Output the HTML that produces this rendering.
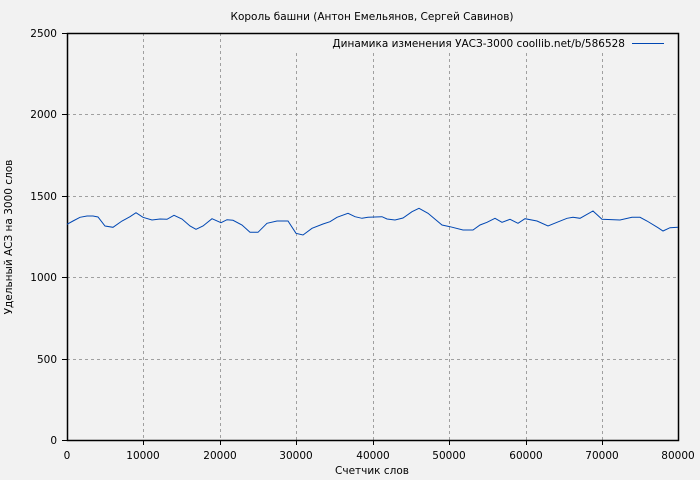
<!DOCTYPE html>
<html><head><meta charset="utf-8"><style>
html,body{margin:0;padding:0;background:#f2f2f2;}
svg{display:block;font-family:"DejaVu Sans","Liberation Sans",sans-serif;}
</style></head><body>
<svg width="700" height="480" viewBox="0 0 700 480">
<rect width="700" height="480" fill="#f2f2f2"/>
<g stroke="#a0a0a0" stroke-width="1" stroke-dasharray="3,3" fill="none">
<line x1="143.5" y1="33" x2="143.5" y2="440"/>
<line x1="220.5" y1="33" x2="220.5" y2="440"/>
<line x1="296.5" y1="53" x2="296.5" y2="440"/>
<line x1="373.5" y1="53" x2="373.5" y2="440"/>
<line x1="449.5" y1="53" x2="449.5" y2="440"/>
<line x1="526.5" y1="53" x2="526.5" y2="440"/>
<line x1="602.5" y1="53" x2="602.5" y2="440"/>
<line x1="67" y1="114.5" x2="678" y2="114.5"/>
<line x1="67" y1="196.5" x2="678" y2="196.5"/>
<line x1="67" y1="277.5" x2="678" y2="277.5"/>
<line x1="67" y1="359.5" x2="678" y2="359.5"/>
</g>
<rect x="67.5" y="33.5" width="611" height="407" fill="none" stroke="#000" stroke-width="1.5"/>
<g stroke="#000" stroke-width="1">
<line x1="67" y1="114.5" x2="62" y2="114.5"/><line x1="67" y1="196.5" x2="62" y2="196.5"/><line x1="67" y1="277.5" x2="62" y2="277.5"/><line x1="67" y1="359.5" x2="62" y2="359.5"/><line x1="67" y1="33.5" x2="62" y2="33.5"/><line x1="67" y1="440.5" x2="62" y2="440.5"/>
<line x1="143.5" y1="440" x2="143.5" y2="445"/><line x1="220.5" y1="440" x2="220.5" y2="445"/><line x1="296.5" y1="440" x2="296.5" y2="445"/><line x1="373.5" y1="440" x2="373.5" y2="445"/><line x1="449.5" y1="440" x2="449.5" y2="445"/><line x1="526.5" y1="440" x2="526.5" y2="445"/><line x1="602.5" y1="440" x2="602.5" y2="445"/>
</g>
<g font-size="10.5" fill="#000" text-anchor="end">
<text x="57" y="37">2500</text><text x="57" y="118">2000</text><text x="57" y="200">1500</text><text x="57" y="281">1000</text><text x="57" y="363">500</text><text x="57" y="444">0</text>
</g>
<g font-size="10.5" fill="#000" text-anchor="middle">
<text x="67" y="459">0</text><text x="143" y="459">10000</text><text x="220" y="459">20000</text><text x="296" y="459">30000</text><text x="373" y="459">40000</text><text x="449" y="459">50000</text><text x="526" y="459">60000</text><text x="602" y="459">70000</text><text x="678" y="459">80000</text>
<text x="372" y="474">Счетчик слов</text>
<text x="372" y="20">Король башни (Антон Емельянов, Сергей Савинов)</text>
<text transform="translate(12,237) rotate(-90)">Удельный АСЗ на 3000 слов</text>
</g>
<text x="625" y="47" font-size="10.5" text-anchor="end">Динамика изменения УАСЗ-3000 coollib.net/b/586528</text>
<line x1="632" y1="43.5" x2="664" y2="43.5" stroke="#0047b3" stroke-width="1"/>
<polyline fill="none" stroke="#0047b3" stroke-width="1" points="67,224.3 73,221 80,217.3 87,216 93,216 98,217 105,226 113,227.3 122,221 130,216.7 136,212.7 143,217.3 152,220 160,219 167,219.3 174,215.3 182,219 190,226 196,229.3 203,226 212,218.7 221,222.7 227,219.7 233,220.3 242,225 250,232.3 258,232.3 267,223.3 277,221 288,221 296,233.3 303,235 312,228.3 323,224 330,221.7 337,217.3 348,213.3 355,216.7 362,218.3 368,217.3 382,216.7 387,219 395,220 403,218 412,211.7 419,208.3 428,213.3 442,225 450,226.7 463,230 473,230 480,225 487,222.3 495,218.3 502,222.3 510,219.3 518,223.3 525,218.7 537,221 548,226 557,222.3 567,218.3 573,217.3 580,218.3 593,211 602,219.3 620,220 632,217.3 640,217.3 647,221 658,227.7 663,231 670,227.7 678,227.3"/>
</svg>
</body></html>
